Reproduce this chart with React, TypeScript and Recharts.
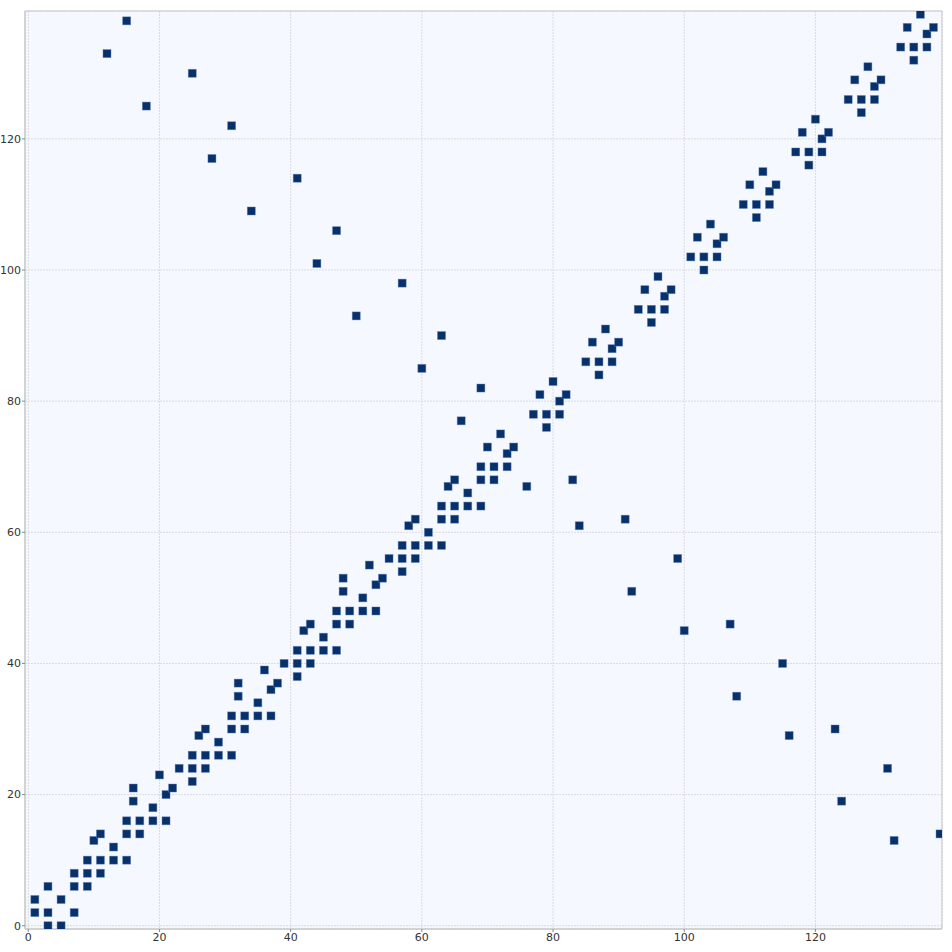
import React from 'react';
import {
  ScatterChart,
  Scatter,
  XAxis,
  YAxis,
  CartesianGrid,
  ReferenceArea,
} from 'recharts';

// nonzero entries: column index and row index
const cols = [
  1, 1, 3, 3, 3, 5, 5, 7, 7, 7, 9, 9, 9, 10, 11, 11, 11, 13, 13, 15, 15, 15, 16, 16, 17, 17, 19, 19,
  20, 21, 21, 22, 23, 25, 25, 25, 26, 27, 27, 27, 29, 29, 31, 31, 31, 32, 32, 33, 33, 35, 35, 36, 37,
  37, 38, 39, 41, 41, 41, 42, 43, 43, 43, 45, 45, 47, 47, 47, 48, 48, 49, 49, 51, 51, 52, 53, 53, 54,
  55, 57, 57, 57, 58, 59, 59, 59, 61, 61, 63, 63, 63, 64, 65, 65, 65, 67, 67, 69, 69, 69, 70, 71, 71,
  72, 73, 73, 74, 77, 78, 79, 79, 80, 81, 81, 82, 85, 86, 87, 87, 88, 89, 89, 90, 93, 94, 95, 95, 96,
  97, 97, 98, 101, 102, 103, 103, 104, 105, 105, 106, 109, 110, 111, 111, 112, 113, 113, 114, 117, 118,
  119, 119, 120, 121, 121, 122, 125, 126, 127, 127, 128, 129, 129, 130, 133, 134, 135, 135, 136, 137,
  137, 138,
];
const rows = [
  4, 2, 6, 2, 0, 4, 0, 8, 6, 2, 10, 8, 6, 13, 14, 10, 8, 12, 10, 16, 14, 10, 21, 19, 16, 14, 18, 16,
  23, 20, 16, 21, 24, 26, 24, 22, 29, 30, 26, 24, 28, 26, 32, 30, 26, 37, 35, 32, 30, 34, 32, 39, 36,
  32, 37, 40, 42, 40, 38, 45, 46, 42, 40, 44, 42, 42, 46, 48, 53, 51, 48, 46, 50, 48, 55, 52, 48, 53,
  56, 58, 56, 54, 61, 62, 58, 56, 60, 58, 64, 62, 58, 67, 68, 64, 62, 66, 64, 70, 68, 64, 73, 70, 68,
  75, 72, 70, 73, 78, 81, 78, 76, 83, 80, 78, 81, 86, 89, 86, 84, 91, 88, 86, 89, 94, 97, 94, 92, 99,
  96, 94, 97, 102, 105, 102, 100, 107, 104, 102, 105, 110, 113, 110, 108, 115, 112, 110, 113, 118, 121,
  118, 116, 123, 120, 118, 121, 126, 129, 126, 124, 131, 128, 126, 129, 134, 137, 134, 132, 139, 136,
  134, 137,
];

// entries far from the diagonal
const farCols = [
  15, 12, 25, 18, 31, 28, 41, 34, 47, 44, 57, 50, 63, 60, 69, 66,
  76, 83, 84, 91, 92, 99, 100, 107, 108, 115, 116, 123, 124, 131, 132, 139,
];
const farRows = [
  138, 133, 130, 125, 122, 117, 114, 109, 106, 101, 98, 93, 90, 85, 82, 77,
  67, 68, 61, 62, 51, 56, 45, 46, 35, 40, 29, 30, 19, 24, 13, 14,
];

const ticks = [0, 20, 40, 60, 80, 100, 120];

const points = [
  ...cols.map((c, i) => ({ x: c, y: rows[i] })),
  ...farCols.map((c, i) => ({ x: c, y: farRows[i] })),
];

const Square = (props: any) => {
  const { cx, cy } = props;
  if (cx == null || cy == null) return null;
  return (
    <rect
      x={cx - 4}
      y={cy - 4}
      width={8}
      height={8}
      fill="#08306b"
      stroke="#5b7fb3"
      strokeOpacity={0.6}
      strokeWidth={0.7}
    />
  );
};

const tickStyle = { fill: '#333', fontSize: 11, fontFamily: 'DejaVu Sans' };

export default function App() {
  return (
    <div style={{ position: 'absolute', left: 0, top: 0, width: 952, height: 952, background: '#fff' }}>
      <ScatterChart
        width={952}
        height={952}
        margin={{ top: 11, right: 10, bottom: 0, left: 0 }}
      >
        <CartesianGrid fill="#f5f9ff" stroke="#d9dbdf" strokeDasharray="2 1" />
        <XAxis
          type="number"
          dataKey="x"
          domain={[-0.5, 139.3]}
          ticks={ticks}
          allowDataOverflow
          height={23}
          tickSize={3}
          tickMargin={1}
          tick={tickStyle}
          axisLine={{ stroke: '#c8c8c8' }}
          tickLine={{ stroke: '#888' }}
        />
        <YAxis
          type="number"
          dataKey="y"
          domain={[-0.5, 139.5]}
          ticks={ticks}
          allowDataOverflow
          width={25}
          tickSize={3}
          tickMargin={1}
          tick={tickStyle}
          axisLine={{ stroke: '#c8c8c8' }}
          tickLine={{ stroke: '#888' }}
        />
        <ReferenceArea
          x1={-0.5}
          x2={139.3}
          y1={-0.5}
          y2={139.5}
          fill="none"
          fillOpacity={0}
          stroke="#c8c8c8"
          strokeWidth={1}
        />
        <Scatter data={points} shape={Square} isAnimationActive={false} />
      </ScatterChart>
    </div>
  );
}
